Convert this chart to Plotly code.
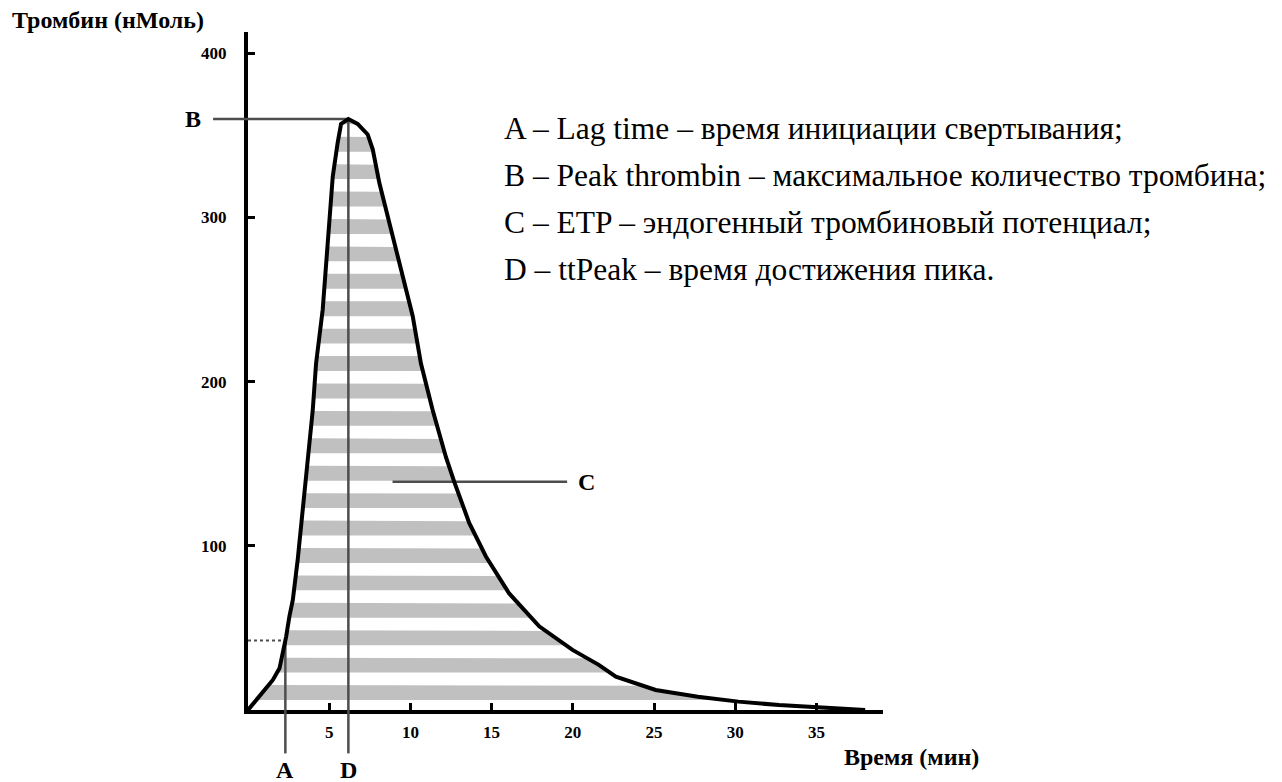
import numpy as np
import plotly.graph_objects as go

# ---- data ----
time_min = [0, 0.91, 1.53, 1.94, 2.14, 2.35, 2.55, 2.76, 3.06, 3.37, 3.68, 3.99, 4.19,
            4.60, 4.91, 5.22, 5.52, 5.73, 6.18, 6.75, 7.37, 7.68, 8.09, 8.70, 9.52,
            10.14, 10.65, 11.36, 12.19, 12.70, 13.62, 14.65, 16.08, 17.93, 19.98,
            21.6, 22.65, 23.26, 25.1, 27.7, 30.2, 32.7, 34.9, 37.6, 38.0]
thrombin = [0, 11.2, 18.3, 25.4, 34.6, 44.7, 57, 67, 91.5, 122, 152, 183, 211,
            244, 284.6, 325, 345.5, 357, 360, 357, 350.6, 341.5, 321, 297, 264,
            240, 211, 183, 154, 139, 114, 93.5, 71, 51, 36.6,
            27.5, 20.3, 18.3, 12.2, 8.1, 5.1, 3.0, 1.6, 0.4, 0]
lag_time = 2.3
etp_marker_y = 139
etp_marker_x = [8.9, 19.65]

x_ticks = [5, 10, 15, 20, 25, 30, 35]
y_ticks = [100, 200, 300, 400]

legend_lines = [
    "A – Lag time – время инициации свертывания;",
    "B – Peak thrombin – максимальное количество тромбина;",
    "C – ETP – эндогенный тромбиновый потенциал;",
    "D – ttPeak – время достижения пика.",
]

# ---- style constants ----
STRIPE_BASE, STRIPE_PERIOD, STRIPE_H = 6.1, 16.7, 9.1
GRAY = "#c0c0c0"
LINE_GRAY = "#4d4d4d"
SERIF = "Liberation Serif, Times New Roman, serif"

t = np.array(time_min, float)
y = np.array(thrombin, float)
ipk = int(np.argmax(y))
pk_x, pk_y = t[ipk], y[ipk]
lag_y = float(np.interp(lag_time, t, y))

# horizontal stripes filling the area under the curve
xs = np.linspace(0, t.max(), 3000)
sx, sy = [], []
y0 = STRIPE_BASE
while y0 < pk_y:
    y1 = y0 + STRIPE_H
    xl = float(np.interp(y0, y[:ipk + 1], t[:ipk + 1]))
    xr = float(np.interp(y0, y[ipk:][::-1], t[ipk:][::-1]))
    inner = (xs > xl) & (xs < xr)
    xx = np.concatenate([[xl], xs[inner], [xr]])
    ff = np.minimum(np.interp(xx, t, y), y1)
    ff[0] = y0
    ff[-1] = y0
    sx += list(xx) + list(xx[::-1]) + [None]
    sy += list(ff) + [y0] * len(xx) + [None]
    y0 += STRIPE_PERIOD

fig = go.Figure()
fig.add_trace(go.Scatter(x=sx, y=sy, mode="lines", fill="toself", fillcolor=GRAY,
                         line=dict(width=0), hoverinfo="skip", showlegend=False))

def seg(xv, yv, dash="solid", width=2.5):
    fig.add_trace(go.Scatter(x=xv, y=yv, mode="lines", showlegend=False, hoverinfo="skip",
                             line=dict(color=LINE_GRAY, width=width, dash=dash)))

seg([0, lag_time], [lag_y, lag_y], dash="dot", width=2)
seg([lag_time, lag_time], [lag_y, 0])
seg([pk_x, pk_x], [pk_y, 0])
seg([0, pk_x], [pk_y, pk_y])
seg(etp_marker_x, [etp_marker_y, etp_marker_y])

fig.add_trace(go.Scatter(x=time_min, y=thrombin, mode="lines", showlegend=False,
                         line=dict(color="black", width=4)))

# stubs outside the plotting area
shapes = [
    dict(type="line", xref="x", yref="paper", x0=lag_time, x1=lag_time, y0=0, y1=-0.064,
         line=dict(color=LINE_GRAY, width=2.5)),
    dict(type="line", xref="x", yref="paper", x0=pk_x, x1=pk_x, y0=0, y1=-0.064,
         line=dict(color=LINE_GRAY, width=2.5)),
    dict(type="line", xref="paper", yref="y", x0=-0.055, x1=0, y0=pk_y, y1=pk_y,
         line=dict(color=LINE_GRAY, width=2.5)),
]

bold = dict(family=SERIF, size=24, color="black", weight="bold")
ann = [
    dict(text="A", xref="x", yref="paper", x=lag_time, y=-0.088, showarrow=False,
         font=bold, xanchor="center", yanchor="middle"),
    dict(text="D", xref="x", yref="paper", x=pk_x, y=-0.088, showarrow=False,
         font=bold, xanchor="center", yanchor="middle"),
    dict(text="B", xref="paper", yref="y", x=-0.087, y=pk_y, showarrow=False,
         font=bold, xanchor="center", yanchor="middle"),
    dict(text="C", xref="x", yref="y", x=etp_marker_x[1] + 1.2, y=etp_marker_y, showarrow=False,
         font=bold, xanchor="center", yanchor="middle"),
    dict(text="Тромбин (нМоль)", xref="paper", yref="paper", x=-0.375, y=1.018,
         showarrow=False, font=dict(family=SERIF, size=24, color="black", weight="bold"),
         xanchor="left", yanchor="middle"),
    dict(text="Время (мин)", xref="paper", yref="paper", x=0.935, y=-0.069,
         showarrow=False, font=dict(family=SERIF, size=24, color="black", weight="bold"),
         xanchor="left", yanchor="middle"),
]
legend_y = [354.3, 325.6, 297.0, 268.3]
for txt, ly in zip(legend_lines, legend_y):
    ann.append(dict(text=txt, xref="x", yref="y", x=15.65, y=ly, showarrow=False,
                    font=dict(family=SERIF, size=31.5, color="black"),
                    xanchor="left", yanchor="middle"))

tickfont = dict(family=SERIF, size=17, color="black", weight="bold")
fig.update_layout(
    width=1274, height=774,
    margin=dict(l=240, r=399, t=24, b=72),
    paper_bgcolor="white", plot_bgcolor="white",
    shapes=shapes, annotations=ann,
    xaxis=dict(range=[0, 39.1], showline=True, linecolor="black", linewidth=4,
               ticks="inside", ticklen=7, tickwidth=3, tickcolor="black",
               tickvals=x_ticks, ticktext=[str(v) for v in x_ticks], tickfont=tickfont,
               showgrid=False, zeroline=False, ticklabelstandoff=4),
    yaxis=dict(range=[0, 413], showline=True, linecolor="black", linewidth=4,
               ticks="inside", ticklen=7, tickwidth=3, tickcolor="black",
               tickvals=y_ticks, ticktext=[str(v) for v in y_ticks], tickfont=tickfont,
               showgrid=False, zeroline=False, ticklabelstandoff=14),
)

fig.write_html("out.html")
